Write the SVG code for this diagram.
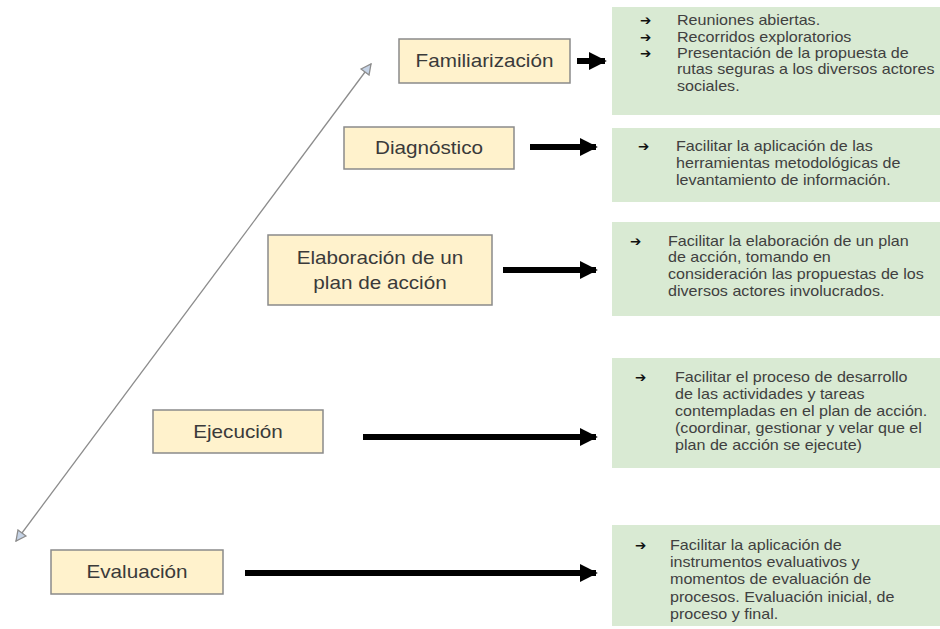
<svg xmlns="http://www.w3.org/2000/svg" width="940" height="629" viewBox="0 0 940 629">
<defs>
<style>
.node rect{fill:#fff2cc;stroke:#8a8a8a;stroke-width:1.5}
.node text{font-family:"Liberation Sans",Arial,sans-serif;font-size:18px;fill:#3a3a3a;text-anchor:middle}
.info rect{fill:#d9ead3}
.info text{font-family:"Liberation Sans",Arial,sans-serif;font-size:14px;fill:#404040}
.info text.bul{font-family:"DejaVu Sans",sans-serif;font-size:13.5px;font-weight:bold;fill:#111}
.flow{stroke:#000;stroke-width:6;fill:none}
.diag{stroke:#8c8c8c;stroke-width:1.3;fill:none}
</style>
<marker id="ah" viewBox="0 0 10 10" refX="9" refY="5" markerWidth="3" markerHeight="3" orient="auto">
<path d="M0,0 L10,5 L0,10 Z" fill="#000"/>
</marker>
<marker id="open" viewBox="0 0 12 12" refX="11" refY="6" markerWidth="12" markerHeight="12" markerUnits="userSpaceOnUse" orient="auto-start-reverse">
<path d="M1,1 L11,6 L1,11 Z" fill="#c5d3e6" stroke="#8c8c8c" stroke-width="1.3"/>
</marker>
</defs>
<rect width="940" height="629" fill="#fff"/>

<g id="connectors">
<line class="diag" x1="16" y1="541" x2="371" y2="64" marker-start="url(#open)" marker-end="url(#open)"/>
<line class="flow" x1="577" y1="61" x2="605" y2="61" marker-end="url(#ah)"/>
<line class="flow" x1="530" y1="147" x2="596" y2="147" marker-end="url(#ah)"/>
<line class="flow" x1="503" y1="270" x2="596" y2="270" marker-end="url(#ah)"/>
<line class="flow" x1="363" y1="437" x2="596" y2="437" marker-end="url(#ah)"/>
<line class="flow" x1="245" y1="573" x2="596" y2="573" marker-end="url(#ah)"/>
</g>

<g id="familiarizacion" class="node">
<rect x="399" y="39" width="171" height="44"/>
<text transform="translate(484.5,67) scale(1.15,1)">Familiarización</text>
</g>
<g id="diagnostico" class="node">
<rect x="344" y="127" width="170" height="42"/>
<text transform="translate(429,154) scale(1.15,1)">Diagnóstico</text>
</g>
<g id="elaboracion" class="node">
<rect x="268" y="235" width="224" height="70"/>
<text transform="translate(380,264) scale(1.15,1)">Elaboración de un</text>
<text transform="translate(380,289) scale(1.15,1)">plan de acción</text>
</g>
<g id="ejecucion" class="node">
<rect x="153" y="410" width="170" height="43"/>
<text transform="translate(238,438) scale(1.15,1)">Ejecución</text>
</g>
<g id="evaluacion" class="node">
<rect x="51" y="550" width="172" height="44"/>
<text transform="translate(137,578) scale(1.15,1)">Evaluación</text>
</g>

<g id="info-familiarizacion" class="info">
<rect x="612" y="7" width="328" height="108"/>
<text class="bul" x="640" y="25">➔</text>
<text class="bul" x="640" y="42">➔</text>
<text class="bul" x="640" y="58">➔</text>
<text transform="translate(677,25) scale(1.15,1)"><tspan x="0" y="0">Reuniones abiertas.</tspan><tspan x="0" y="17">Recorridos exploratorios</tspan><tspan x="0" y="33">Presentación de la propuesta de</tspan><tspan x="0" y="49.5">rutas seguras a los diversos actores</tspan><tspan x="0" y="66">sociales.</tspan></text>
</g>
<g id="info-diagnostico" class="info">
<rect x="612" y="128" width="328" height="74"/>
<text class="bul" x="638" y="151">➔</text>
<text transform="translate(676,151) scale(1.15,1)"><tspan x="0" y="0">Facilitar la aplicación de las</tspan><tspan x="0" y="17">herramientas metodológicas de</tspan><tspan x="0" y="34">levantamiento de información.</tspan></text>
</g>
<g id="info-elaboracion" class="info">
<rect x="612" y="222" width="328" height="94"/>
<text class="bul" x="630" y="246">➔</text>
<text transform="translate(668,246) scale(1.15,1)"><tspan x="0" y="0">Facilitar la elaboración de un plan</tspan><tspan x="0" y="16.5">de acción, tomando en</tspan><tspan x="0" y="33">consideración las propuestas de los</tspan><tspan x="0" y="50">diversos actores involucrados.</tspan></text>
</g>
<g id="info-ejecucion" class="info">
<rect x="612" y="358" width="328" height="110"/>
<text class="bul" x="635" y="382">➔</text>
<text transform="translate(675,382) scale(1.15,1)"><tspan x="0" y="0">Facilitar el proceso de desarrollo</tspan><tspan x="0" y="17.5">de las actividades y tareas</tspan><tspan x="0" y="34.5">contempladas en el plan de acción.</tspan><tspan x="0" y="51">(coordinar,  gestionar y velar que el</tspan><tspan x="0" y="68.5">plan de acción se ejecute)</tspan></text>
</g>
<g id="info-evaluacion" class="info">
<rect x="612" y="525" width="328" height="101"/>
<text class="bul" x="635" y="550">➔</text>
<text transform="translate(670,550) scale(1.15,1)"><tspan x="0" y="0">Facilitar la aplicación de</tspan><tspan x="0" y="17">instrumentos evaluativos y</tspan><tspan x="0" y="34">momentos de evaluación de</tspan><tspan x="0" y="52">procesos. Evaluación inicial, de</tspan><tspan x="0" y="69">proceso y final.</tspan></text>
</g>
</svg>
